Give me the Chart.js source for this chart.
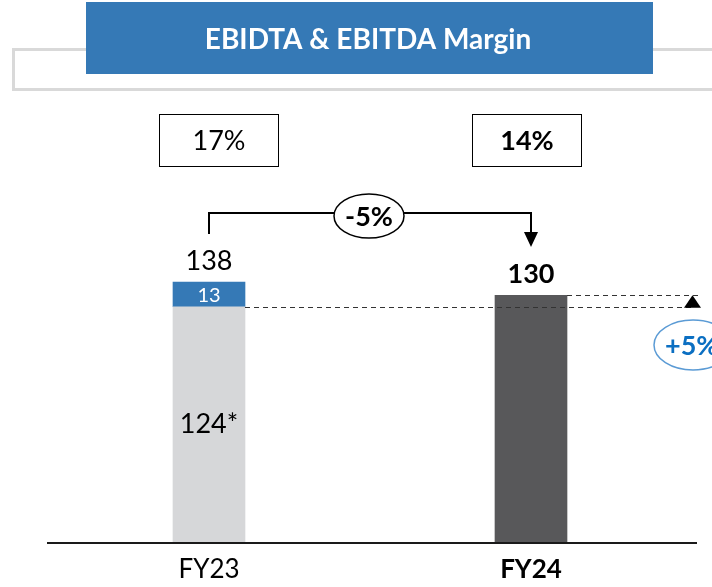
<!DOCTYPE html>
<html>
<head>
<meta charset="utf-8">
<script src="https://cdn.jsdelivr.net/npm/chart.js@4.4.0/dist/chart.umd.min.js"></script>
<style>
html,body{margin:0;padding:0;background:#fff;}
#wrap{position:relative;width:712px;height:587px;}
</style>
</head>
<body>
<div id="wrap"><canvas id="c" width="712" height="587"></canvas></div>
<script>
// ---- data ----
const categories = ['FY23', 'FY24'];
const baseValues = [124, null];      // FY23 underlying EBITDA (124*)
const upliftValues = [13, null];     // FY23 one-off (13)
const fy24Values = [null, 130];      // FY24 EBITDA
const totalLabels = ['138', '130'];
const baseLabels = ['124*', ''];
const upliftLabels = ['13', ''];
const marginLabels = ['17%', '14%'];
const changeLabel = '-5%';
const underlyingChangeLabel = '+5%';
const titleText = 'EBIDTA & EBITDA Margin';

const FONT = 'Lato, "Open Sans", sans-serif';

const overlay = {
  id: 'overlay',
  beforeDraw(chart) {
    const ctx = chart.ctx;
    ctx.save();
    // outline box behind the title
    ctx.strokeStyle = '#d9d9d9';
    ctx.lineWidth = 3;
    ctx.strokeRect(13.5, 49.5, 720, 40);
    // title box
    ctx.fillStyle = '#3579b6';
    ctx.fillRect(86, 2, 567, 72);
    ctx.fillStyle = '#ffffff';
    ctx.font = 'bold 28px ' + FONT;
    ctx.textAlign = 'center';
    ctx.textBaseline = 'middle';
    ctx.fillText(titleText, 368, 40);
    ctx.restore();
  },
  afterDraw(chart) {
    const ctx = chart.ctx;
    const xs = chart.scales.x, ys = chart.scales.y;
    const x0 = xs.getPixelForValue(0), x1 = xs.getPixelForValue(1);
    const half = 36;
    const yZero = ys.getPixelForValue(0);
    const yBase = ys.getPixelForValue(baseValues[0]);
    const yTot0 = ys.getPixelForValue(baseValues[0] + upliftValues[0]);
    const yTot1 = ys.getPixelForValue(fy24Values[1]);
    ctx.save();
    // axis line
    ctx.strokeStyle = '#1a1a1a';
    ctx.lineWidth = 2;
    ctx.beginPath(); ctx.moveTo(47, yZero); ctx.lineTo(697, yZero); ctx.stroke();

    ctx.textAlign = 'center';
    ctx.textBaseline = 'middle';
    // category labels
    ctx.fillStyle = '#000';
    ctx.font = '26px ' + FONT;
    ctx.fillText(categories[0], x0, 570);
    ctx.font = 'bold 26px ' + FONT;
    ctx.fillText(categories[1], x1, 570);

    // margin boxes
    ctx.lineWidth = 1;
    ctx.strokeStyle = '#000';
    ctx.strokeRect(159.5, 114.5, 119, 52);
    ctx.strokeRect(472.5, 114.5, 109, 52);
    ctx.font = '27px ' + FONT;
    ctx.fillText(marginLabels[0], 219, 141);
    ctx.font = 'bold 27px ' + FONT;
    ctx.fillText(marginLabels[1], 527, 141);

    // bracket
    ctx.lineWidth = 2;
    ctx.beginPath();
    ctx.moveTo(x0, 234); ctx.lineTo(x0, 213); ctx.lineTo(x1, 213); ctx.lineTo(x1, 234);
    ctx.stroke();
    ctx.fillStyle = '#000';
    ctx.beginPath();
    ctx.moveTo(x1 - 7, 232); ctx.lineTo(x1 + 7, 232); ctx.lineTo(x1, 247); ctx.closePath();
    ctx.fill();
    // -5% ellipse
    ctx.beginPath();
    ctx.ellipse(369, 216, 35, 22, 0, 0, Math.PI * 2);
    ctx.fillStyle = '#fff'; ctx.fill();
    ctx.lineWidth = 1.5; ctx.strokeStyle = '#000'; ctx.stroke();
    ctx.fillStyle = '#000';
    ctx.font = 'bold 27px ' + FONT;
    ctx.fillText(changeLabel, 369, 217);

    // value labels
    ctx.font = '27px ' + FONT;
    ctx.fillText(totalLabels[0], x0, yTot0 - 21);
    ctx.fillText(baseLabels[0], x0, (yBase + yZero) / 2 - 1);
    ctx.font = 'bold 27px ' + FONT;
    ctx.fillText(totalLabels[1], x1, yTot1 - 21);
    ctx.fillStyle = '#fff';
    ctx.font = '20px ' + FONT;
    ctx.fillText(upliftLabels[0], x0, (yBase + yTot0) / 2 + 1);

    // dashed reference lines
    ctx.strokeStyle = '#333';
    ctx.lineWidth = 1;
    ctx.setLineDash([5, 4]);
    ctx.beginPath();
    ctx.moveTo(x0 + half, Math.round(yBase) + 0.5); ctx.lineTo(693, Math.round(yBase) + 0.5);
    ctx.moveTo(x1 + half, Math.round(yTot1) + 0.5); ctx.lineTo(700, Math.round(yTot1) + 0.5);
    ctx.stroke();
    ctx.setLineDash([]);
    // up arrow
    ctx.fillStyle = '#000';
    ctx.beginPath();
    ctx.moveTo(684, yBase + 1); ctx.lineTo(701, yBase + 1); ctx.lineTo(692.5, yTot1); ctx.closePath();
    ctx.fill();

    // +5% ellipse
    ctx.beginPath();
    ctx.ellipse(693, 345, 39, 25, 0, 0, Math.PI * 2);
    ctx.fillStyle = '#fff'; ctx.fill();
    ctx.lineWidth = 1.5; ctx.strokeStyle = '#5b9bd5'; ctx.stroke();
    ctx.fillStyle = '#0b6fc2';
    ctx.font = 'bold 27px ' + FONT;
    ctx.textAlign = 'left';
    ctx.fillText(underlyingChangeLabel, 665, 346);
    ctx.restore();
  }
};

new Chart(document.getElementById('c'), {
  type: 'bar',
  data: {
    labels: categories,
    datasets: [
      { label: 'Base', data: baseValues, backgroundColor: '#d6d7d9', stack: 's' },
      { label: 'One-off', data: upliftValues, backgroundColor: '#3579b6', stack: 's' },
      { label: 'FY24', data: fy24Values, backgroundColor: '#58585a', stack: 's' }
    ]
  },
  options: {
    responsive: false,
    animation: false,
    events: [],
    layout: { padding: { top: 162, bottom: 44, left: 48, right: 20 } },
    datasets: { bar: { barThickness: 72 } },
    plugins: { legend: { display: false }, tooltip: { enabled: false }, title: { display: false } },
    scales: {
      x: { stacked: true, display: false, offset: true },
      y: { stacked: true, display: false, min: 0, max: 200 }
    }
  },
  plugins: [overlay]
});
</script>
</body>
</html>
